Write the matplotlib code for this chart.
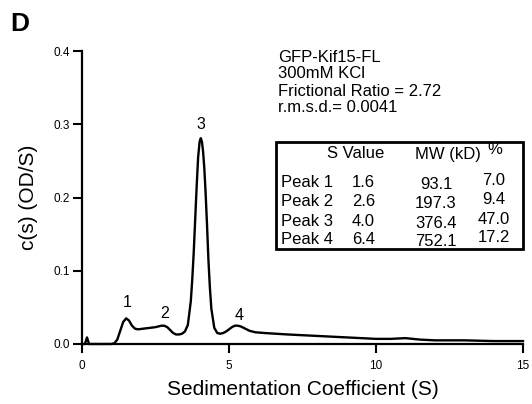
import matplotlib
matplotlib.use('Agg')
import matplotlib.pyplot as plt
from matplotlib.patches import Rectangle

plt.rcParams['font.family'] = ['Liberation Sans', 'DejaVu Sans']

# c(s) distribution, GFP-Kif15-FL in 300mM KCl
s_coef = [0.0, 0.1, 0.17, 0.24, 0.35, 1.0, 1.1, 1.2, 1.3, 1.4, 1.5, 1.6, 1.7, 1.8, 1.9,
          2.1, 2.3, 2.5, 2.7, 2.8, 2.9, 3.0, 3.1, 3.2, 3.3, 3.4, 3.5, 3.6, 3.7, 3.75, 3.8,
          3.85, 3.9, 3.95, 4.0, 4.04, 4.08, 4.12, 4.16, 4.2, 4.25, 4.3, 4.35, 4.4, 4.5,
          4.6, 4.7, 4.8, 4.9, 5.0, 5.1, 5.2, 5.3, 5.4, 5.5, 5.7, 5.9, 6.2, 6.6, 7.0,
          7.5, 8.0, 8.5, 9.0, 9.5, 10.0, 10.5, 11.0, 11.5, 12.0, 13.0, 14.0, 15.0]
cs = [0.0, 0.0, 0.009, 0.0, 0.0, 0.0, 0.001, 0.006, 0.018, 0.030, 0.035, 0.032, 0.025,
      0.021, 0.020, 0.021, 0.022, 0.023, 0.025, 0.025, 0.023, 0.019, 0.015, 0.013, 0.013,
      0.014, 0.017, 0.026, 0.058, 0.088, 0.125, 0.170, 0.215, 0.255, 0.276, 0.281,
      0.276, 0.262, 0.240, 0.210, 0.165, 0.115, 0.077, 0.048, 0.022,
      0.015, 0.014, 0.015, 0.017, 0.020, 0.023, 0.025, 0.025, 0.024, 0.022, 0.018,
      0.016, 0.015, 0.014, 0.013, 0.012, 0.011, 0.010, 0.009, 0.008, 0.007, 0.007,
      0.008, 0.006, 0.005, 0.005, 0.004, 0.004]

peak_labels = ['1', '2', '3', '4']
peak_x = [1.53, 2.82, 4.04, 5.34]
peak_y = [0.057, 0.042, 0.300, 0.039]

info_lines = ['GFP-Kif15-FL', '300mM KCl', 'Frictional Ratio = 2.72', 'r.m.s.d.= 0.0041']
peak_names = ['Peak 1', 'Peak 2', 'Peak 3', 'Peak 4']
s_values = ['1.6', '2.6', '4.0', '6.4']
mw_values = ['93.1', '197.3', '376.4', '752.1']
pct_values = ['7.0', '9.4', '47.0', '17.2']

W, H = 532, 404
fig = plt.figure(figsize=(W / 100, H / 100), dpi=100)


def fx(px):
    return px / W


def fy(py):
    return 1 - py / H


ax = fig.add_axes([fx(82), fy(344), fx(523) - fx(82), fy(51) - fy(344)])
ax.plot(s_coef, cs, color='black', lw=1.7, clip_on=False, solid_joinstyle='round')

ax.set_xlim(0, 15)
ax.set_ylim(0, 0.4)
ax.set_xticks([0, 5, 10, 15])
ax.set_yticks([0.0, 0.1, 0.2, 0.3, 0.4])
ax.set_yticklabels(['0.0', '0.1', '0.2', '0.3', '0.4'])
ax.tick_params(direction='out', length=6.5, width=1.5, labelsize=8.5, pad=2)
ax.tick_params(axis='x', pad=5)
for side in ['top', 'right']:
    ax.spines[side].set_visible(False)
for side in ['left', 'bottom']:
    ax.spines[side].set_linewidth(1.6)

ax.set_xlabel('Sedimentation Coefficient (S)', fontsize=15, labelpad=6)
ax.set_ylabel('c(s) (OD/S)', fontsize=15, labelpad=11)

for lab, x, y in zip(peak_labels, peak_x, peak_y):
    ax.text(x, y, lab, fontsize=11.5, ha='center', va='center')

fig.text(fx(10), fy(24), 'D', fontsize=19, fontweight='bold', ha='left', va='center')

for i, line in enumerate(info_lines):
    fig.text(fx(278), fy(57 + i * 17), line, fontsize=12, ha='left', va='center')

# peak summary table
fig.patches.append(Rectangle((fx(276), fy(249)), fx(523) - fx(276), fy(142) - fy(249),
                             transform=fig.transFigure, fill=False, lw=2, color='black'))
fig.text(fx(327), fy(154), 'S Value', fontsize=12, ha='left', va='center')
fig.text(fx(415), fy(154), 'MW (kD)', fontsize=12, ha='left', va='center')
fig.text(fx(495), fy(150), '%', fontsize=12, ha='center', va='center')

row_y = [183, 202, 221, 239]
for name, s, mw, pct, y in zip(peak_names, s_values, mw_values, pct_values, row_y):
    fig.text(fx(281), fy(y), name, fontsize=12, ha='left', va='center')
    fig.text(fx(352), fy(y), s, fontsize=12, ha='left', va='center')
    fig.text(fx(436), fy(y + 2), mw, fontsize=12, ha='center', va='center')
    fig.text(fx(494), fy(y - 2), pct, fontsize=12, ha='center', va='center')

fig.savefig('out.png', dpi=100)
